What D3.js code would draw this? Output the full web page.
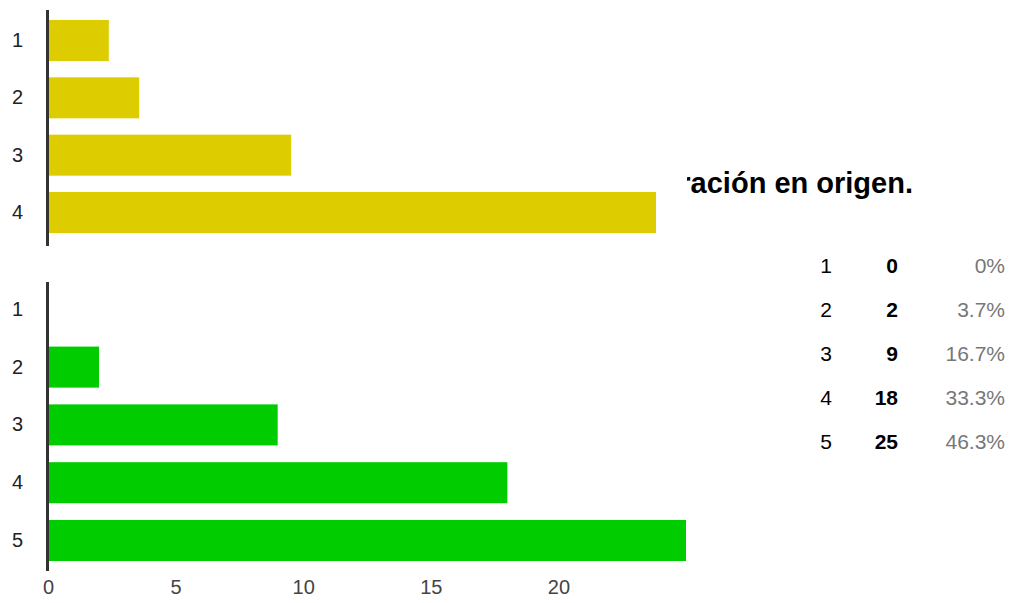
<!DOCTYPE html>
<html>
<head>
<meta charset="utf-8">
<script src="https://cdn.jsdelivr.net/npm/d3@7"></script>
<style>
  html, body { margin: 0; padding: 0; background: #fff; }
  svg { display: block; font-family: Arial, "Liberation Sans", sans-serif; }
  .axis text { font-size: 20px; font-family: Arial, "Liberation Sans", sans-serif; }
</style>
</head>
<body>
<svg id="chart" width="1011" height="603"></svg>
<script>
// ---- data ----
const topCategories = ["1", "2", "3", "4"];
const topValues = [2, 3, 8, 20];
const categories = ["1", "2", "3", "4", "5"];
const values = [0, 2, 9, 18, 25];
const percentLabels = ["0%", "3.7%", "16.7%", "33.3%", "46.3%"];
const xTicks = [0, 5, 10, 15, 20];
const titleText = "ración en origen.";

const svg = d3.select("#chart");

// ---- title (partly hidden behind the upper chart) ----
const defs = svg.append("defs");
defs.append("clipPath").attr("id", "titleClip")
  .append("rect").attr("x", 687).attr("y", 150).attr("width", 330).attr("height", 70);
svg.append("text")
  .attr("clip-path", "url(#titleClip)")
  .attr("x", 913).attr("y", 193)
  .attr("text-anchor", "end")
  .style("font-size", "29px").attr("font-weight", "bold").attr("fill", "#000")
  .text(titleText);

// ---- upper (yellow) chart ----
const xTop = d3.scaleLinear().domain([0, 20]).range([48, 656]);
const yTop = d3.scaleBand().domain(topCategories).range([11.8, 241.2])
  .paddingInner(0.285).paddingOuter(0.1425);
const gTop = svg.append("g");
gTop.selectAll("rect.bar").data(topValues).join("rect")
  .attr("class", "bar")
  .attr("x", xTop(0) + 1)
  .attr("y", (d, i) => yTop(topCategories[i]))
  .attr("width", d => Math.max(0, xTop(d) - xTop(0) - 1))
  .attr("height", yTop.bandwidth())
  .attr("fill", "#dccc00");
const yAxisTop = gTop.append("g").attr("class", "axis").attr("transform", "translate(23,0)")
  .call(d3.axisLeft(yTop).tickSize(0).tickPadding(0));
yAxisTop.select(".domain").remove();
yAxisTop.selectAll("text").attr("fill", "#222");
gTop.append("line").attr("x1", 47.5).attr("x2", 47.5).attr("y1", 10).attr("y2", 246)
  .attr("stroke", "#333").attr("stroke-width", 3);

// ---- lower (green) chart ----
const x = d3.scaleLinear().domain([0, 25]).range([48, 686]);
const y = d3.scaleBand().domain(categories).range([280.4, 569.4])
  .paddingInner(0.29).paddingOuter(0.145);
const g = svg.append("g");
g.selectAll("rect.bar").data(values).join("rect")
  .attr("class", "bar")
  .attr("x", x(0) + 1)
  .attr("y", (d, i) => y(categories[i]))
  .attr("width", d => Math.max(0, x(d) - x(0) - 1))
  .attr("height", y.bandwidth())
  .attr("fill", "#00cc00");
const yAxis = g.append("g").attr("class", "axis").attr("transform", "translate(23,0)")
  .call(d3.axisLeft(y).tickSize(0).tickPadding(0));
yAxis.select(".domain").remove();
yAxis.selectAll("text").attr("fill", "#222");
g.append("line").attr("x1", 47.5).attr("x2", 47.5).attr("y1", 282).attr("y2", 571)
  .attr("stroke", "#333").attr("stroke-width", 3);

const xAxis = g.append("g").attr("class", "axis").attr("transform", "translate(0,576)")
  .call(d3.axisBottom(x).tickValues(xTicks).tickSize(0).tickPadding(0).tickFormat(d3.format("d")));
xAxis.select(".domain").remove();
xAxis.selectAll("text").attr("fill", "#444").attr("dy", "0.9em");

// ---- summary table ----
const rowY = d3.scalePoint().domain(categories).range([273, 449]);
const table = svg.append("g").style("font-size", "21px");
table.selectAll("text.cat").data(categories).join("text")
  .attr("class", "cat")
  .attr("x", 826).attr("y", d => rowY(d))
  .attr("text-anchor", "middle").attr("fill", "#000")
  .text(d => d);
table.selectAll("text.count").data(values).join("text")
  .attr("class", "count")
  .attr("x", 898).attr("y", (d, i) => rowY(categories[i]))
  .attr("text-anchor", "end").attr("font-weight", "bold").attr("fill", "#000")
  .text(d => d);
table.selectAll("text.pct").data(percentLabels).join("text")
  .attr("class", "pct")
  .attr("x", 1005).attr("y", (d, i) => rowY(categories[i]))
  .attr("text-anchor", "end").attr("fill", "#777")
  .text(d => d);
</script>
</body>
</html>
